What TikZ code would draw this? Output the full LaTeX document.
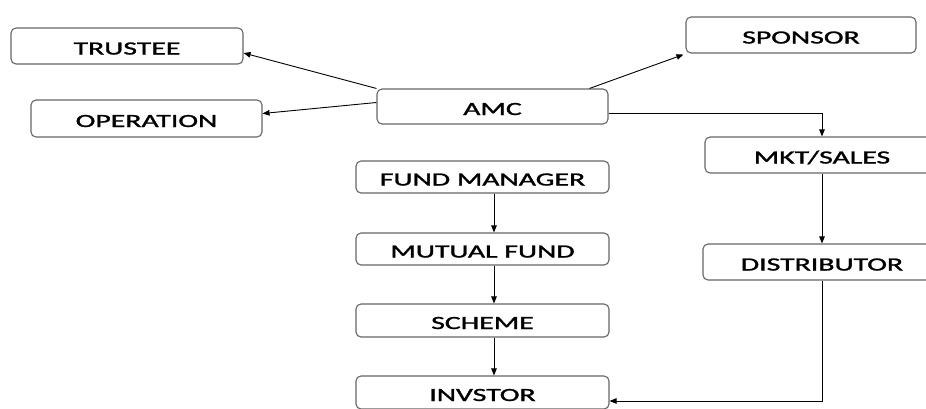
\documentclass[tikz,border=0pt]{standalone}
\usepackage{fontspec}
\setmainfont{Carlito}[FakeBold=1.2]
\usetikzlibrary{arrows.meta}
\newcommand\widetext[1]{\scalebox{1.6}[1]{#1}}
\tikzset{
  box/.style={draw=black!60, line width=1.1pt, rounded corners=5pt, minimum width=231pt,
    minimum height=35pt, inner sep=0pt, text height=17pt, text depth=0pt,
    font=\fontsize{18.6}{20}\selectfont},
  conn/.style={draw=black, line width=0.9pt, -{Triangle[length=7pt,width=5.5pt]}}
}
\begin{document}
\begin{tikzpicture}[x=1pt,y=-1pt]
\useasboundingbox (0,0) rectangle (926,408);
\clip (0,0) rectangle (926,408);
\node[box, minimum width=232pt, minimum height=36pt] (trustee) at (127,46) {\widetext{TRUSTEE}};
\node[box, minimum height=37pt] (operation) at (146.5,118.5) {\widetext{OPERATION}};
\node[box] (amc) at (492.5,106.5) {\widetext{AMC}};
\node[box, minimum width=230pt, minimum height=36pt] (sponsor) at (801,35) {\widetext{SPONSOR}};
\node[box, minimum width=234pt, minimum height=36pt] (mkt) at (822,155) {\widetext{MKT/SALES}};
\node[box, minimum width=238pt, minimum height=36pt] (dist) at (822,262) {\widetext{DISTRIBUTOR}};
\node[box, minimum width=253pt, minimum height=32pt] (fm) at (482.5,177) {\widetext{FUND MANAGER}};
\node[box, minimum width=253pt, minimum height=32pt] (mf) at (482.5,249) {\widetext{MUTUAL FUND}};
\node[box, minimum width=253pt, minimum height=33pt] (scheme) at (482.5,320.5) {\widetext{SCHEME}};
\node[box, minimum width=253pt, minimum height=33pt] (inv) at (482.5,392.5) {\widetext{INVSTOR}};

\draw[conn] (amc.north west) -- ([yshift=-7pt]trustee.east);
\draw[conn] ([yshift=4pt]amc.west) -- ([yshift=5pt]operation.east);
\draw[conn] ([xshift=97pt]amc.north) -- ([xshift=-2pt,yshift=-1pt]sponsor.south west);
\draw[conn] ([yshift=-6.5pt]amc.east) -| (mkt.north);
\draw[conn] (mkt.south) -- (dist.north);
\draw[conn] (dist.south) |- ([yshift=-8.5pt]inv.east);
\draw[conn] ([xshift=11.5pt]fm.south) -- ([xshift=11.5pt]mf.north);
\draw[conn] ([xshift=11.5pt]mf.south) -- ([xshift=11.5pt]scheme.north);
\draw[conn] ([xshift=11.5pt]scheme.south) -- ([xshift=11.5pt]inv.north);
\end{tikzpicture}
\end{document}
